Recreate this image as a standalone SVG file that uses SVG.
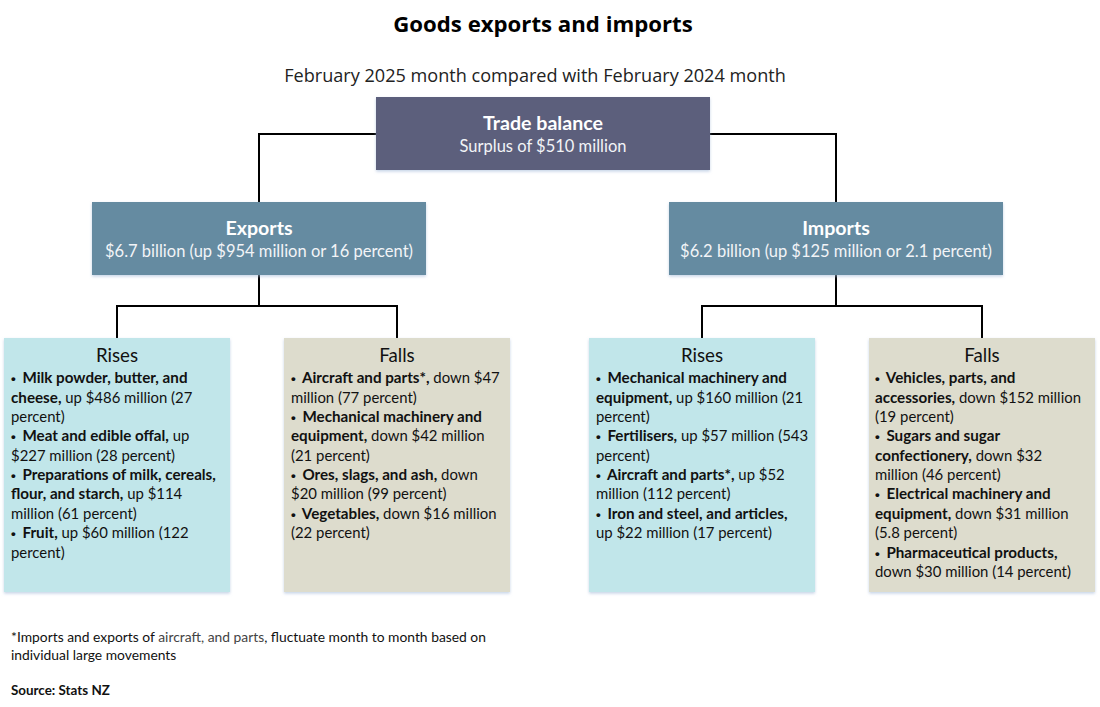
<svg xmlns="http://www.w3.org/2000/svg" width="1100" height="707" viewBox="0 0 1100 707">
<style>
text{font-family:"Lato","Open Sans",sans-serif;fill:#111}
.title{font-family:"Open Sans",sans-serif;font-size:22.2px;font-weight:700;text-anchor:middle;fill:#000}
.sub{font-family:"Open Sans",sans-serif;font-size:18.1px;text-anchor:middle;fill:#222}
.h{font-size:19.6px;font-weight:700;text-anchor:middle;fill:#fff}
.s{font-size:16.5px;text-anchor:middle;fill:#f2f4f7}
.g{font-size:18.7px;text-anchor:middle;fill:#111}
.b{font-size:14.9px}
.b tspan{font-weight:700;font-size:15.2px}
.b tspan.d{font-family:"Liberation Sans",sans-serif;font-size:13.5px;letter-spacing:3px}
.n{font-size:13.85px}
.src{font-size:13.4px;font-weight:700}
.conn{fill:none;stroke:#000;stroke-width:2}
.shade{filter:url(#sh)}
</style>
<defs><filter id="sh" x="-5%" y="-5%" width="110%" height="115%"><feDropShadow dx="0" dy="1.5" stdDeviation="1.5" flood-color="#9fb6d6" flood-opacity="0.6"/></filter></defs>
<rect width="1100" height="707" fill="#fff"/>
<text class="title" x="543" y="32">Goods exports and imports</text>
<text class="sub" x="535" y="82">February 2025 month compared with February 2024 month</text>
<g id="connectors">
<path class="conn" d="M377 134H259V203M710 134H836V203"/>
<path class="conn" d="M259 274V306M117 338V306H397V338"/>
<path class="conn" d="M836 274V306M702 338V306H982V338"/>
</g>
<g id="trade-balance"><rect class="shade" x="376" y="97" width="334" height="73" fill="#5c5f7b"/>
<text class="h" x="543" y="129.5">Trade balance</text><text class="s" x="543" y="151.5">Surplus of $510 million</text></g>
<g id="exports"><rect class="shade" x="92" y="202" width="334" height="73" fill="#658ba1"/>
<text class="h" x="259" y="234.5">Exports</text><text class="s" x="259" y="256.5">$6.7 billion (up $954 million or 16 percent)</text></g>
<g id="imports"><rect class="shade" x="669" y="202" width="334" height="73" fill="#658ba1"/>
<text class="h" x="836" y="234.5">Imports</text><text class="s" x="836" y="256.5">$6.2 billion (up $125 million or 2.1 percent)</text></g>
<g id="export-rises"><rect class="shade" x="4" y="338" width="226" height="254" fill="#c1e6ea"/>
<text class="g" x="117" y="362">Rises</text>
<text class="b" x="11" y="383"><tspan class="d">•</tspan><tspan> Milk powder, butter, and</tspan></text>
<text class="b" x="11" y="403"><tspan>cheese,</tspan> up $486 million (27</text>
<text class="b" x="11" y="422">percent)</text>
<text class="b" x="11" y="441"><tspan class="d">•</tspan><tspan> Meat and edible offal,</tspan> up</text>
<text class="b" x="11" y="461">$227 million (28 percent)</text>
<text class="b" x="11" y="480"><tspan class="d">•</tspan><tspan> Preparations of milk, cereals,</tspan></text>
<text class="b" x="11" y="499"><tspan>flour, and starch,</tspan> up $114</text>
<text class="b" x="11" y="519">million (61 percent)</text>
<text class="b" x="11" y="538"><tspan class="d">•</tspan><tspan> Fruit,</tspan> up $60 million (122</text>
<text class="b" x="11" y="558">percent)</text></g>
<g id="export-falls"><rect class="shade" x="284" y="338" width="226" height="254" fill="#dddccd"/>
<text class="g" x="397" y="362">Falls</text>
<text class="b" x="291" y="383"><tspan class="d">•</tspan><tspan> Aircraft and parts*,</tspan> down $47</text>
<text class="b" x="291" y="403">million (77 percent)</text>
<text class="b" x="291" y="422"><tspan class="d">•</tspan><tspan> Mechanical machinery and</tspan></text>
<text class="b" x="291" y="441"><tspan>equipment,</tspan> down $42 million</text>
<text class="b" x="291" y="461">(21 percent)</text>
<text class="b" x="291" y="480"><tspan class="d">•</tspan><tspan> Ores, slags, and ash,</tspan> down</text>
<text class="b" x="291" y="499">$20 million (99 percent)</text>
<text class="b" x="291" y="519"><tspan class="d">•</tspan><tspan> Vegetables,</tspan> down $16 million</text>
<text class="b" x="291" y="538">(22 percent)</text></g>
<g id="import-rises"><rect class="shade" x="589" y="338" width="226" height="254" fill="#c1e6ea"/>
<text class="g" x="702" y="362">Rises</text>
<text class="b" x="596" y="383"><tspan class="d">•</tspan><tspan> Mechanical machinery and</tspan></text>
<text class="b" x="596" y="403"><tspan>equipment,</tspan> up $160 million (21</text>
<text class="b" x="596" y="422">percent)</text>
<text class="b" x="596" y="441"><tspan class="d">•</tspan><tspan> Fertilisers,</tspan> up $57 million (543</text>
<text class="b" x="596" y="461">percent)</text>
<text class="b" x="596" y="480"><tspan class="d">•</tspan><tspan> Aircraft and parts*,</tspan> up $52</text>
<text class="b" x="596" y="499">million (112 percent)</text>
<text class="b" x="596" y="519"><tspan class="d">•</tspan><tspan> Iron and steel, and articles,</tspan></text>
<text class="b" x="596" y="538">up $22 million (17 percent)</text></g>
<g id="import-falls"><rect class="shade" x="869" y="338" width="226" height="254" fill="#dddccd"/>
<text class="g" x="982" y="362">Falls</text>
<text class="b" x="875" y="383"><tspan class="d">•</tspan><tspan> Vehicles, parts, and</tspan></text>
<text class="b" x="875" y="403"><tspan>accessories,</tspan> down $152 million</text>
<text class="b" x="875" y="422">(19 percent)</text>
<text class="b" x="875" y="441"><tspan class="d">•</tspan><tspan> Sugars and sugar</tspan></text>
<text class="b" x="875" y="461"><tspan>confectionery,</tspan> down $32</text>
<text class="b" x="875" y="480">million (46 percent)</text>
<text class="b" x="875" y="499"><tspan class="d">•</tspan><tspan> Electrical machinery and</tspan></text>
<text class="b" x="875" y="519"><tspan>equipment,</tspan> down $31 million</text>
<text class="b" x="875" y="538">(5.8 percent)</text>
<text class="b" x="875" y="558"><tspan class="d">•</tspan><tspan> Pharmaceutical products,</tspan></text>
<text class="b" x="875" y="577">down $30 million (14 percent)</text></g>
<text class="n" x="11" y="642">*Imports and exports of <tspan fill="#444">aircraft, and parts</tspan>, fluctuate month to month based on</text>
<text class="n" x="11" y="660">individual large movements</text>
<text class="src" x="11" y="695">Source: Stats NZ</text>
</svg>
